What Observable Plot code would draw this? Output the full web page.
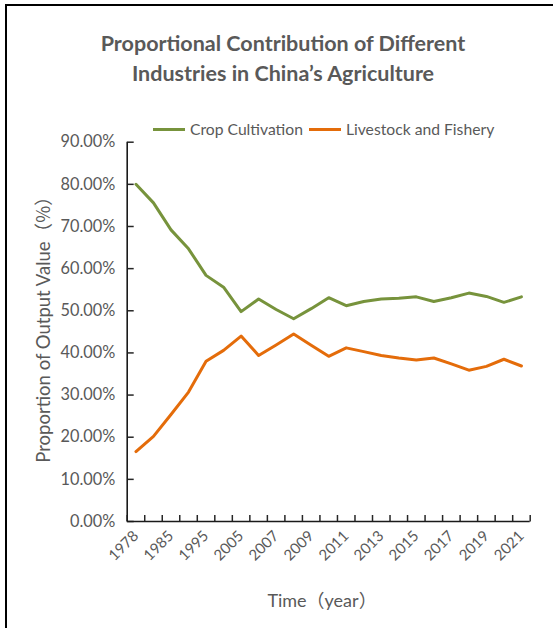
<!DOCTYPE html>
<html>
<head>
<meta charset="utf-8">
<script src="https://cdn.jsdelivr.net/npm/d3@7"></script>
<script src="https://cdn.jsdelivr.net/npm/@observablehq/plot@0.6"></script>
<style>
  html, body { margin: 0; padding: 0; background: #fff; }
  #wrap { position: relative; width: 553px; height: 628px; overflow: hidden; font-family: Lato, "Noto Sans", sans-serif; color: #595959; }
  #frame { position: absolute; left: 5px; top: 4px; right: -5px; bottom: -5px; border-left: 2px solid #000; border-top: 2px solid #000; }
  #title { position: absolute; left: 0; width: 566px; top: 28px; text-align: center; font-weight: bold; font-size: 21.5px; line-height: 30px; color: #595959; }
  #legend { position: absolute; top: 120px; left: 153px; font-size: 15.7px; display: flex; align-items: center; white-space: nowrap; }
  .sw { display: inline-block; width: 32px; height: 3px; margin-right: 5px; }
  .item { display: flex; align-items: center; margin-right: 6px; }
  #chart { position: absolute; left: 0; top: 0; }
  #ytitle { position: absolute; left: 42px; top: 325px; transform: translate(-50%, -50%) rotate(-90deg); font-size: 18.5px; white-space: nowrap; }
  #xtitle { position: absolute; left: 322px; top: 599px; transform: translate(-50%, -50%); font-size: 18px; white-space: nowrap; }
  .cjk { font-family: "Noto Sans CJK SC", sans-serif; }
</style>
</head>
<body>
<div id="wrap">
  <div id="frame"></div>
  <div id="chart"></div>
  <div id="title">Proportional Contribution of Different<br>Industries in China’s Agriculture</div>
  <div id="legend"></div>
  <div id="ytitle">Proportion of Output Value<span class="cjk">（%）</span></div>
  <div id="xtitle">Time<span class="cjk">（</span>year<span class="cjk">）</span></div>
</div>
<script>
const years = ["1978","1980","1985","1990","1995","2000","2005","2006","2007","2008","2009","2010","2011","2012","2013","2014","2015","2016","2017","2018","2019","2020","2021"];
const cropCultivation = [80.0,75.6,69.2,64.7,58.4,55.6,49.8,52.8,50.3,48.1,50.5,53.1,51.2,52.2,52.8,53.0,53.3,52.2,53.1,54.2,53.4,52.0,53.3];
const livestockFishery = [16.6,20.2,25.4,30.7,38.0,40.6,44.0,39.4,41.9,44.5,41.8,39.2,41.2,40.3,39.4,38.8,38.3,38.8,37.4,35.9,36.8,38.5,36.9];
const seriesNames = ["Crop Cultivation", "Livestock and Fishery"];
const seriesColors = ["#77933C", "#E46C0A"];
const yTicks = [0,10,20,30,40,50,60,70,80,90];

const rows = [];
years.forEach((yr, i) => {
  rows.push({i, year: yr, series: seriesNames[0], value: cropCultivation[i]});
  rows.push({i, year: yr, series: seriesNames[1], value: livestockFishery[i]});
});
const idx = years.map((_, i) => i);
const labelIdx = idx.filter(i => i % 2 === 0);
const bounds = d3.range(-1, years.length).map(i => i + 0.5);
const x0 = -0.5, x1 = years.length - 0.5;

const W = 553, H = 628, mL = 126.7, mR = 23.3, mT = 141.7, mB = 107;
const yMax = 90;
// convert a tick length in pixels into data units of each scale
const tickY = 6.5 * yMax / (H - mT - mB);
const tickX = 6.5 * (x1 - x0) / (W - mL - mR);
const yTickRows = yTicks.map(v => ({v, a: x0, b: x0 + tickX}));
const xTickRows = bounds.map(v => ({v, a: 0, b: tickY}));

const chart = Plot.plot({
  width: W,
  height: H,
  marginLeft: mL,
  marginRight: mR,
  marginTop: mT,
  marginBottom: mB,
  style: {fontFamily: "Lato, 'Noto Sans', sans-serif", color: "#595959", background: "transparent"},
  x: {type: "linear", domain: [x0, x1], label: null},
  y: {domain: [0, yMax], label: null},
  color: {domain: seriesNames, range: seriesColors},
  marks: [
    Plot.axisY({ticks: yTicks, tickSize: 0, tickPadding: 12, tickFormat: d => d.toFixed(2) + "%", fontSize: 16.3, fill: "#595959", label: null}),
    Plot.axisX({ticks: labelIdx, tickSize: 0, tickPadding: 12, tickRotate: -45, tickFormat: i => years[i], fontSize: 15, fill: "#595959", label: null}),
    Plot.link(yTickRows, {x1: "a", x2: "b", y1: "v", y2: "v", stroke: "#262626", strokeWidth: 1.5}),
    Plot.link(xTickRows, {x1: "v", x2: "v", y1: "a", y2: "b", stroke: "#262626", strokeWidth: 1.5}),
    Plot.ruleX([x0], {stroke: "#1a1a1a", strokeWidth: 1.6}),
    Plot.ruleY([0], {stroke: "#1a1a1a", strokeWidth: 1.6}),
    Plot.line(rows, {x: "i", y: "value", z: "series", stroke: "series", strokeWidth: 3, curve: "linear"})
  ]
});
document.getElementById("chart").appendChild(chart);

const legend = document.getElementById("legend");
seriesNames.forEach((name, k) => {
  const item = document.createElement("span");
  item.className = "item";
  const sw = document.createElement("span");
  sw.className = "sw";
  sw.style.background = seriesColors[k];
  item.appendChild(sw);
  item.appendChild(document.createTextNode(name));
  legend.appendChild(item);
});
</script>
</body>
</html>
